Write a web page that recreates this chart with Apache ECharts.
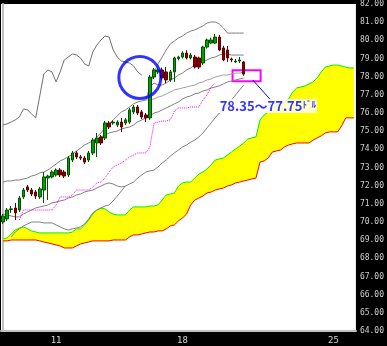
<!DOCTYPE html>
<html>
<head>
<meta charset="utf-8">
<script src="https://cdn.jsdelivr.net/npm/echarts@6/dist/echarts.min.js"></script>
<style>
  html, body { margin: 0; padding: 0; background: #000; }
  #chart { width: 387px; height: 346px; }
</style>
</head>
<body>
<div id="chart"></div>
<script>
// bars on the axis: 60 candles + the cloud drawn 26 bars ahead
const barCount = 87;
const dayLabels = { 13: '11', 44: '18', 81: '25' };

// [open, close, low, high]
const candles = [
  [70.00, 70.33, 69.89, 70.44], [70.17, 70.66, 70.06, 70.77], [70.69, 70.72, 70.50, 70.88],
  [70.77, 70.50, 70.11, 71.05], [70.66, 71.32, 70.55, 71.43], [71.38, 71.76, 71.27, 71.87],
  [71.93, 71.76, 71.65, 72.04], [71.76, 71.54, 71.43, 71.87], [71.65, 71.43, 71.27, 71.76],
  [71.38, 71.82, 71.27, 71.93], [71.76, 72.48, 71.05, 72.75], [72.42, 72.53, 71.21, 72.60],
  [72.48, 72.75, 72.40, 72.85], [72.59, 72.86, 72.50, 72.95], [72.86, 72.59, 72.48, 72.97],
  [72.75, 72.53, 72.42, 72.86], [72.59, 73.52, 72.48, 73.63], [73.41, 73.80, 73.30, 73.91],
  [73.80, 73.58, 73.47, 73.91], [73.58, 73.52, 73.41, 73.69], [73.52, 73.30, 73.19, 73.63],
  [73.41, 73.80, 73.30, 73.91], [73.80, 74.51, 73.69, 74.62], [74.35, 74.62, 73.58, 74.90],
  [74.68, 74.35, 74.24, 74.79], [74.62, 75.45, 74.51, 75.56], [75.45, 75.23, 75.12, 75.56],
  [75.45, 75.50, 75.35, 75.60], [75.34, 75.50, 75.23, 75.60], [75.50, 75.23, 74.95, 75.73],
  [75.45, 75.62, 75.34, 75.73], [75.50, 76.17, 75.40, 76.28], [76.06, 76.33, 75.95, 76.44],
  [76.33, 76.00, 75.89, 76.44], [76.06, 75.78, 75.67, 76.17], [75.89, 75.73, 75.50, 76.00],
  [75.73, 77.98, 75.62, 78.09], [77.98, 78.37, 77.87, 78.48], [78.26, 78.37, 78.15, 78.48],
  [78.37, 77.93, 77.80, 78.50], [78.26, 77.82, 77.65, 78.53], [77.82, 78.26, 77.71, 78.37],
  [78.26, 79.03, 77.71, 79.10], [79.00, 79.08, 78.90, 79.15], [79.08, 79.30, 79.00, 79.40],
  [79.30, 79.03, 78.95, 79.45], [79.03, 79.19, 78.95, 79.30], [79.08, 78.53, 78.45, 79.20],
  [79.03, 78.53, 78.42, 79.10], [78.75, 79.63, 78.65, 79.70], [79.63, 80.02, 79.55, 80.10],
  [79.85, 80.02, 79.80, 80.15], [79.85, 80.18, 79.80, 80.35], [80.18, 79.47, 79.40, 80.30],
  [79.58, 78.92, 78.85, 79.70], [79.47, 79.03, 78.81, 79.69], [78.97, 78.92, 78.80, 79.05],
  [78.81, 78.86, 78.75, 78.97], [78.86, 78.92, 78.75, 79.08], [78.81, 78.14, 78.05, 78.86]
];

// lagging span
const lagging = [
  75.34, 75.40, 75.51, 75.62, 75.78, 76.22, 76.17, 75.95, 75.73, 76.94,
  78.15, 78.37, 78.26, 77.71, 78.26, 78.92, 79.08, 79.25, 79.19, 79.03,
  78.70, 78.59, 79.36, 79.74, 80.02, 80.24, 80.18, 79.47, 79.08, 78.86,
  78.81, 78.75, 78.59, 78.26, 78.09
];

// grey lines, '-' where none is drawn
const grayLine1 = [
  72.20, 72.26, 72.26, 72.31, 72.31, 72.37, 72.42, 72.53, 72.59, 72.70,
  72.75, 72.86, 73.03, 73.19, 73.36, 73.47, 73.58, 73.74, 73.91, 74.07,
  74.24, 74.35, 74.46, 74.57, 74.68, 74.79, 74.90, 74.96, 75.01, 75.12,
  75.18, 75.23, 75.34, 75.51, 75.62, 75.73, 75.84, 76.00, 76.06, 76.17,
  76.28, 76.39, 76.50, 76.61, 76.77, 76.88, 76.94, 77.05, 77.10, 77.21,
  77.27, 77.38, 77.43, 77.49, 77.60, 77.71, 77.76, 77.82, 77.87, 77.93
];
const grayLine2 = [
  70.44, 70.39, 70.33, 70.28, 70.28, 70.44, 70.55, 70.66, 70.77, 70.83,
  70.88, 70.94, 71.05, 71.10, 71.16, 71.21, 71.32, 71.38, 71.49, 71.54,
  71.65, 71.71, 71.76, 71.87, 71.98, 72.09, 72.15, 72.09, 71.98, 71.93,
  71.98, 72.09, 72.20, 72.42, 72.59, 72.75, 72.81, 72.86, 73.03, 73.25,
  73.41, 73.63, 73.80, 73.96, 74.13, 74.24, 74.40, 74.51, 74.68, 74.90,
  75.18, 75.45, 75.73, 76.00, 76.17, 76.44, 76.72, 76.99, 77.27, 77.54
];
const grayLine3 = [
  '-', '-', 69.18, 69.45, 69.62, 69.78, 69.89, 70.00, 70.00, 70.00,
  69.95, 69.95, 69.95, 69.84, 69.73, 69.62, 69.56, 69.62, 69.67, 69.73,
  69.89, 70.17, 70.50, 70.66, 70.77, 70.88, 70.94, 71.16, 71.43, 71.71,
  71.98
];
const upperLine = [
  '-', '-', '-', '-', '-', '-', '-', '-', '-', '-',
  '-', '-', '-', '-', '-', '-', '-', '-', '-', '-',
  '-', '-', 74.46, 74.68, 74.90, 75.18, 75.40, 75.62, 75.84, 76.06,
  76.17, 76.33, 76.50, 76.61, 76.66, 76.72, 77.43, 78.26, 78.70, 79.08,
  79.47, 79.80, 79.96, 80.13, 80.24, 80.40, 80.51, 80.57, 80.68, 80.79,
  80.95, 81.01, 81.01, 80.90, 80.68, 80.40, 80.40, 80.40, 80.40, 80.40
];
const grayLine4 = [
  '-', '-', '-', '-', '-', '-', '-', '-', '-', '-',
  '-', '-', '-', '-', '-', '-', '-', '-', '-', '-',
  '-', '-', '-', '-', '-', '-', '-', '-', '-', '-',
  '-', '-', '-', '-', '-', '-', 77.43, 77.65, 77.54, 77.54,
  77.65, 77.82, 77.93, 78.09, 78.20, 78.37, 78.48, 78.64, 78.70, 78.81,
  78.92, 79.03, 79.08, 79.19, 79.25, 79.25, 79.19, 79.19, 79.19, 79.19
];
const grayLine5 = [
  '-', '-', '-', '-', '-', '-', '-', '-', '-', '-',
  '-', '-', '-', '-', '-', '-', '-', '-', '-', '-',
  '-', '-', '-', '-', '-', '-', '-', '-', '-', '-',
  '-', '-', '-', '-', '-', 76.72, 76.72, 76.77, 76.88, 76.94,
  77.05, 77.16, 77.27, 77.32, 77.38, 77.43, 77.49, 77.54, 77.65, 77.71,
  77.82, 77.87, 77.98, 78.04, 78.09, 78.09, 78.15, 78.20, 78.20, 78.26
];

// base line (dotted magenta), starts at bar 4
const baseLine = [
  '-', '-', '-', '-', 70.11, 70.66, 70.66, 70.66, 70.66, 70.66,
  70.66, 70.66, 70.66, 70.94, 71.38, 71.38, 71.38, 71.49, 71.76, 71.76,
  71.76, 71.76, 71.93, 72.15, 72.20, 72.42, 72.75, 73.03, 73.14, 73.25,
  73.41, 73.58, 73.69, 73.80, 73.80, 73.80, 74.13, 75.45, 75.50, 75.56,
  75.56, 75.62, 76.11, 76.28, 76.28, 76.28, 76.33, 76.33, 76.33, 76.72,
  76.99, 77.43, 77.65
];

// leading spans (cloud)
const spanA = [
  69.07, 69.12, 69.34, 69.56, 69.67, 69.73, 69.62, 69.51, 69.45, 69.40,
  69.40, 69.40, 69.40, 69.40, 69.40, 69.40, 69.40, 69.45, 69.62, 69.62,
  69.84, 70.11, 70.44, 70.66, 70.77, 70.72, 70.55, 70.44, 70.39, 70.39,
  70.39, 70.66, 70.83, 70.83, 70.83, 70.83, 70.88, 70.88, 70.94, 71.21,
  71.49, 71.54, 71.60, 71.98, 72.15, 72.20, 72.20, 72.42, 72.64, 72.75,
  72.92, 73.14, 73.41, 73.47, 73.52, 73.69, 73.85, 74.02, 74.18, 74.35,
  74.57, 74.63, 74.68, 75.62, 75.89, 76.06, 76.22, 76.39, 76.50, 76.61,
  76.77, 77.16, 77.38, 77.43, 77.49, 77.60, 77.71, 77.93, 78.26, 78.53,
  78.59, 78.64, 78.64, 78.59, 78.53, 78.48, 78.48
];
const spanB = [
  68.96, 68.96, 69.01, 69.01, 69.01, 69.01, 69.01, 69.01, 69.01, 68.96,
  68.90, 68.85, 68.79, 68.74, 68.68, 68.57, 68.57, 68.57, 68.68, 68.79,
  68.85, 68.90, 68.96, 68.96, 68.96, 68.96, 68.96, 69.01, 69.01, 69.01,
  69.01, 69.18, 69.29, 69.29, 69.34, 69.40, 69.45, 69.45, 69.51, 69.51,
  69.62, 69.78, 69.84, 70.06, 70.22, 70.44, 70.94, 71.21, 71.32, 71.43,
  71.60, 71.65, 71.76, 71.82, 71.87, 71.98, 72.04, 72.15, 72.20, 72.26,
  72.31, 72.37, 72.42, 73.30, 73.36, 73.52, 73.85, 73.91, 73.96, 74.13,
  74.24, 74.30, 74.35, 74.35, 74.35, 74.35, 74.51, 74.63, 74.74, 74.90,
  74.96, 74.96, 74.96, 75.29, 75.73, 75.73, 75.73
];

const lastPrice = 78.14;
const targetHigh = 78.35;
const targetLow = 77.75;
const targetText = '78.35～77.75';

const categories = [];
for (let i = 0; i < barCount; i++) categories.push(dayLabels[i] || '');
const cloudGap = spanA.map((a, i) => +(a - spanB[i]).toFixed(2));

const chart = echarts.init(document.getElementById('chart'), null, { renderer: 'canvas' });

const lineSeries = (data, color, extra) => Object.assign({
  type: 'line',
  data: data,
  symbol: 'none',
  silent: true,
  lineStyle: { color: color, width: 1 },
  z: 3
}, extra || {});

chart.setOption({
  animation: false,
  backgroundColor: '#000',
  grid: {
    left: 1, right: 31, top: 4, bottom: 15,
    show: true, backgroundColor: '#fff', borderWidth: 0
  },
  xAxis: [
    {
      type: 'category',
      data: categories,
      boundaryGap: true,
      axisLine: { show: true, lineStyle: { color: '#c0c0c0', width: 2 } },
      axisTick: { show: false },
      axisLabel: { interval: 0, color: '#d8d8d8', fontSize: 9, fontFamily: 'DejaVu Sans Mono', margin: 5 },
      splitLine: { show: false }
    },
    {
      type: 'value', min: -0.5, max: barCount - 0.5, show: false
    }
  ],
  yAxis: {
    type: 'value',
    position: 'right',
    min: 64, max: 82, interval: 1,
    axisLine: { show: true, lineStyle: { color: '#c0c0c0', width: 2 } },
    axisTick: { show: false },
    splitLine: { show: false },
    axisLabel: {
      color: '#d0d0d0', fontSize: 8, fontFamily: 'DejaVu Sans Mono', margin: 4,
      formatter: v => v.toFixed(2)
    }
  },
  series: [
    // cloud fill
    lineSeries(spanB, 'transparent', { stack: 'kumo', lineStyle: { opacity: 0 }, z: 1 }),
    lineSeries(cloudGap, 'transparent', {
      stack: 'kumo', lineStyle: { opacity: 0 },
      areaStyle: { color: '#ffff00', opacity: 1 }, z: 1
    }),
    lineSeries(spanA, '#00ee00', { z: 2 }),
    lineSeries(spanB, '#ff0000', { z: 2 }),
    lineSeries(grayLine1, '#808080'),
    lineSeries(grayLine2, '#808080'),
    lineSeries(grayLine3, '#808080'),
    lineSeries(upperLine, '#808080'),
    lineSeries(grayLine4, '#808080'),
    lineSeries(grayLine5, '#a0a0a0'),
    lineSeries(lagging, '#707070'),
    lineSeries(baseLine, '#ff00ff', { lineStyle: { color: '#ff00ff', width: 1, type: [1, 1] } }),
    {
      type: 'candlestick',
      data: candles,
      barWidth: 3,
      z: 4,
      itemStyle: {
        color: '#00a000', color0: '#880000',
        borderColor: '#005000', borderColor0: '#600000', borderWidth: 1
      },
      markLine: {
        silent: true,
        symbol: 'none',
        lineStyle: { opacity: 0 },
        label: {
          position: 'end', distance: 2,
          formatter: lastPrice.toFixed(2),
          color: '#400000', fontSize: 8, fontFamily: 'DejaVu Sans Mono',
          backgroundColor: '#fff', borderColor: '#800000', borderWidth: 1,
          padding: [2, 2, 1, 2]
        },
        data: [{ yAxis: lastPrice }]
      }
    },
    // annotations
    {
      type: 'scatter',
      xAxisIndex: 1,
      silent: true,
      z: 6,
      data: [[33.53, 77.95]],
      symbol: 'circle',
      symbolSize: 42,
      itemStyle: { color: 'transparent', borderColor: '#0000ff', borderWidth: 3 },
      markArea: {
        silent: true,
        itemStyle: { color: 'transparent', borderColor: '#ff00ff', borderWidth: 2 },
        data: [[{ coord: [56.26, targetHigh] }, { coord: [63.14, targetLow] }]]
      },
      markLine: {
        silent: true,
        symbol: 'none',
        lineStyle: { color: '#0000ff', width: 1, type: 'solid' },
        label: { show: false },
        data: [[{ coord: [61.2, 77.82] }, { coord: [65.6, 76.72] }]]
      }
    },
    {
      type: 'scatter',
      xAxisIndex: 1,
      silent: true,
      z: 7,
      data: [[64.9, 76.39]],
      symbolSize: 0,
      label: {
        show: true,
        position: 'inside',
        formatter: '{a|' + targetText + '}{b|ﾄﾞﾙ}',
        backgroundColor: '#fff',
        padding: [1, 1, 0, 1],
        rich: {
          a: { color: '#0000ff', fontSize: 13, fontWeight: 'bold', fontFamily: 'Noto Sans CJK JP' },
          b: { color: '#0000ff', fontSize: 9, fontWeight: 'bold', fontFamily: 'Noto Sans CJK JP', verticalAlign: 'top' }
        }
      }
    }
  ]
});
window.addEventListener('resize', chart.resize);
</script>
</body>
</html>
